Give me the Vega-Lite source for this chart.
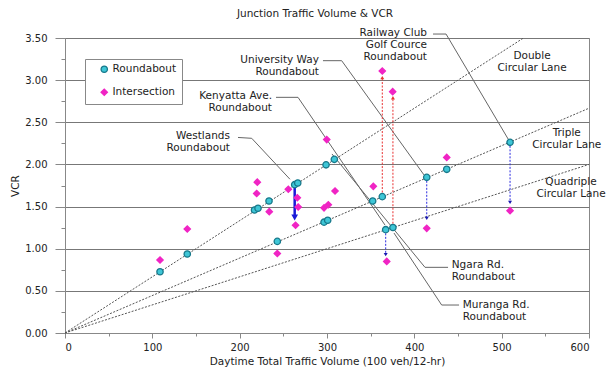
{
  "$schema": "https://vega.github.io/schema/vega-lite/v6.json",
  "width": 524,
  "height": 295,
  "autosize": {"type": "none"},
  "padding": {"left": 65, "top": 38, "right": 27, "bottom": 41},
  "background": "white",
  "title": {"text": "Junction Traffic Volume & VCR", "font": "DejaVu Sans", "fontSize": 10.5, "fontWeight": "normal", "color": "#222", "offset": 8, "dx": -12},
  "config": {
    "view": {"stroke": "#888", "strokeWidth": 1},
    "font": "DejaVu Sans",
    "axis": {"labelFont": "DejaVu Sans", "titleFont": "DejaVu Sans", "labelFontSize": 10, "titleFontSize": 10.5, "titleFontWeight": "normal", "labelColor": "#222", "titleColor": "#222", "domainColor": "#888", "tickColor": "#888", "gridColor": "#777", "gridWidth": 1},
    "legend": {"orient": "none", "legendX": 20, "legendY": 21, "padding": 5, "symbolOffset": 9, "labelOffset": 3, "rowPadding": 10, "strokeColor": "#888", "fillColor": "white", "labelFont": "DejaVu Sans", "labelFontSize": 10.5, "labelColor": "#222", "symbolSize": 40, "symbolStrokeWidth": 1.3}
  },
  "datasets": {
    "points": [
      {"series": "Roundabout", "x": 108.8, "y": 0.727},
      {"series": "Roundabout", "x": 140, "y": 0.937},
      {"series": "Roundabout", "x": 217, "y": 1.46},
      {"series": "Roundabout", "x": 221, "y": 1.48},
      {"series": "Roundabout", "x": 233.6, "y": 1.566},
      {"series": "Roundabout", "x": 243.1, "y": 1.087},
      {"series": "Roundabout", "x": 263, "y": 1.76},
      {"series": "Roundabout", "x": 266.5, "y": 1.78},
      {"series": "Roundabout", "x": 296.6, "y": 1.315},
      {"series": "Roundabout", "x": 300.8, "y": 1.338},
      {"series": "Roundabout", "x": 298.9, "y": 1.995},
      {"series": "Roundabout", "x": 308.4, "y": 2.06},
      {"series": "Roundabout", "x": 352.3, "y": 1.566},
      {"series": "Roundabout", "x": 363.3, "y": 1.618},
      {"series": "Roundabout", "x": 367.2, "y": 1.226},
      {"series": "Roundabout", "x": 375.5, "y": 1.252},
      {"series": "Roundabout", "x": 414.2, "y": 1.847},
      {"series": "Roundabout", "x": 437.1, "y": 1.942},
      {"series": "Roundabout", "x": 509.6, "y": 2.262},
      {"series": "Intersection", "x": 108.8, "y": 0.866},
      {"series": "Intersection", "x": 140, "y": 1.234},
      {"series": "Intersection", "x": 220.2, "y": 1.79},
      {"series": "Intersection", "x": 219.5, "y": 1.655},
      {"series": "Intersection", "x": 233.9, "y": 1.44},
      {"series": "Intersection", "x": 243.1, "y": 0.943},
      {"series": "Intersection", "x": 255.7, "y": 1.705},
      {"series": "Intersection", "x": 266, "y": 1.605},
      {"series": "Intersection", "x": 267, "y": 1.495},
      {"series": "Intersection", "x": 264, "y": 1.278},
      {"series": "Intersection", "x": 296.6, "y": 1.485},
      {"series": "Intersection", "x": 301.5, "y": 1.522},
      {"series": "Intersection", "x": 299.7, "y": 2.295},
      {"series": "Intersection", "x": 309.2, "y": 1.685},
      {"series": "Intersection", "x": 353, "y": 1.74},
      {"series": "Intersection", "x": 363.3, "y": 3.108},
      {"series": "Intersection", "x": 375.2, "y": 2.863},
      {"series": "Intersection", "x": 368.4, "y": 0.849},
      {"series": "Intersection", "x": 414.2, "y": 1.242},
      {"series": "Intersection", "x": 437.1, "y": 2.083},
      {"series": "Intersection", "x": 509.6, "y": 1.451}
    ],
    "lanes": [
      {"lane": "Double", "x": 0, "y": 0},
      {"lane": "Double", "x": 525, "y": 3.5},
      {"lane": "Triple", "x": 0, "y": 0},
      {"lane": "Triple", "x": 600, "y": 2.667},
      {"lane": "Quadriple", "x": 0, "y": 0},
      {"lane": "Quadriple", "x": 600, "y": 2.0}
    ],
    "leaders": [
      {"id": "Westlands", "seq": 1, "x": 198.1, "y": 2.32},
      {"id": "Westlands", "seq": 2, "x": 213.8, "y": 2.31},
      {"id": "Westlands", "seq": 3, "x": 257.6, "y": 1.824},
      {"id": "Kenyatta", "seq": 1, "x": 241.6, "y": 2.796},
      {"id": "Kenyatta", "seq": 2, "x": 266.8, "y": 2.796},
      {"id": "Kenyatta", "seq": 3, "x": 366.4, "y": 1.281},
      {"id": "University", "seq": 1, "x": 295.4, "y": 3.231},
      {"id": "University", "seq": 2, "x": 316.8, "y": 3.231},
      {"id": "University", "seq": 3, "x": 411.1, "y": 1.875},
      {"id": "Railway", "seq": 1, "x": 421.4, "y": 3.547},
      {"id": "Railway", "seq": 2, "x": 436.3, "y": 3.547},
      {"id": "Railway", "seq": 3, "x": 508.4, "y": 2.284},
      {"id": "Ngara", "seq": 1, "x": 438.6, "y": 0.779},
      {"id": "Ngara", "seq": 2, "x": 412.2, "y": 0.779},
      {"id": "Ngara", "seq": 3, "x": 305.7, "y": 2.124},
      {"id": "Muranga", "seq": 1, "x": 451.2, "y": 0.332},
      {"id": "Muranga", "seq": 2, "x": 431.3, "y": 0.332},
      {"id": "Muranga", "seq": 3, "x": 376.7, "y": 1.186}
    ],
    "arrows": [
      {"name": "Westlands", "change": "decrease", "x": 263, "y": 1.77, "y2": 1.37},
      {"name": "Kenyatta", "change": "decrease", "x": 367.2, "y": 1.224, "y2": 0.93},
      {"name": "University", "change": "decrease", "x": 414.2, "y": 1.847, "y2": 1.36},
      {"name": "Railway", "change": "decrease", "x": 509.6, "y": 2.262, "y2": 1.55},
      {"name": "Ngara", "change": "increase", "x": 363.3, "y": 1.625, "y2": 3.03},
      {"name": "Muranga", "change": "increase", "x": 375.5, "y": 1.255, "y2": 2.79}
    ],
    "labelsRight": [
      {"label": "Westlands\nRoundabout", "x": 188.9, "y": 2.391},
      {"label": "Kenyatta Ave.\nRoundabout", "x": 237, "y": 2.868},
      {"label": "University Way\nRoundabout", "x": 290.8, "y": 3.302},
      {"label": "Railway Club\nGolf Cource\nRoundabout", "x": 414.5, "y": 3.619}
    ],
    "labelsCenter": [
      {"label": "Double\nCircular Lane", "x": 534.8, "y": 3.342},
      {"label": "Triple\nCircular Lane", "x": 574.5, "y": 2.432},
      {"label": "Quadriple\nCircular Lane", "x": 579.4, "y": 1.847}
    ],
    "labelsLeft": [
      {"label": "Ngara Rd.\nRoundabout", "x": 442.8, "y": 0.866},
      {"label": "Muranga Rd.\nRoundabout", "x": 455.4, "y": 0.392}
    ]
  },
  "encoding": {
    "x": {
      "field": "x", "type": "quantitative",
      "scale": {"domain": [0, 600], "nice": false, "zero": false},
      "axis": {
        "values": [0, 50, 100, 150, 200, 250, 300, 350, 400, 450, 500, 550, 600],
        "labelExpr": "datum.value % 100 === 0 ? datum.label : ''",
        "tickSize": {"condition": {"test": "datum.value % 100 === 0", "value": 5}, "value": 3},
        "grid": false,
        "labelPadding": 4,
        "title": "Daytime Total Traffic Volume (100 veh/12-hr)",
        "titlePadding": 4
      }
    },
    "y": {
      "field": "y", "type": "quantitative",
      "scale": {"domain": [0, 3.5], "nice": false, "zero": false},
      "axis": {
        "values": [0, 0.25, 0.5, 0.75, 1, 1.25, 1.5, 1.75, 2, 2.25, 2.5, 2.75, 3, 3.25, 3.5],
        "labelExpr": "round(datum.value * 4) % 2 === 0 ? format(datum.value, '.2f') : ''",
        "tickSize": {"condition": {"test": "round(datum.value * 4) % 2 === 0", "value": 10}, "value": 4},
        "grid": true,
        "gridOpacity": {"condition": {"test": "round(datum.value * 4) % 2 === 0", "value": 1}, "value": 0},
        "labelPadding": 8,
        "title": "VCR",
        "titlePadding": 4
      }
    }
  },
  "layer": [
    {
      "data": {"name": "lanes"},
      "mark": {"type": "line", "color": "#555", "strokeWidth": 1, "strokeDash": [2, 1.5]},
      "encoding": {"detail": {"field": "lane", "type": "nominal"}}
    },
    {
      "data": {"name": "leaders"},
      "mark": {"type": "line", "color": "#666", "strokeWidth": 1},
      "encoding": {"detail": {"field": "id", "type": "nominal"}, "order": {"field": "seq", "type": "quantitative"}}
    },
    {
      "data": {"name": "arrows"},
      "transform": [{"filter": "datum.name !== 'Westlands'"}],
      "mark": {"type": "rule", "strokeWidth": 1, "strokeDash": [2, 1.5]},
      "encoding": {
        "y2": {"field": "y2"},
        "color": {"condition": {"test": "datum.change === 'increase'", "value": "#e83030"}, "value": "#2a2ae0"}
      }
    },
    {
      "data": {"name": "arrows"},
      "transform": [{"filter": "datum.name === 'Westlands'"}],
      "mark": {"type": "rule", "strokeWidth": 2.5, "color": "#1a1ad8"},
      "encoding": {"y2": {"field": "y2"}}
    },
    {
      "data": {"name": "points"},
      "mark": {"type": "point", "filled": true, "size": 40, "strokeWidth": 1.3, "opacity": 1},
      "encoding": {
        "shape": {"field": "series", "type": "nominal", "scale": {"domain": ["Roundabout", "Intersection"], "range": ["circle", "diamond"]}, "legend": {"title": null}},
        "fill": {"field": "series", "type": "nominal", "scale": {"domain": ["Roundabout", "Intersection"], "range": ["#3ec6d6", "#f024c4"]}, "legend": {"title": null}},
        "stroke": {"field": "series", "type": "nominal", "scale": {"domain": ["Roundabout", "Intersection"], "range": ["#17788a", "#f024c4"]}, "legend": {"title": null}}
      }
    },
    {
      "data": {"name": "arrows"},
      "transform": [{"filter": "datum.name !== 'Westlands'"}],
      "mark": {"type": "point", "filled": true, "size": 16, "opacity": 1},
      "encoding": {
        "y": {"field": "y2", "type": "quantitative"},
        "shape": {"condition": {"test": "datum.change === 'increase'", "value": "triangle-up"}, "value": "triangle-down"},
        "color": {"condition": {"test": "datum.change === 'increase'", "value": "#e83030"}, "value": "#1a1ab0"}
      }
    },
    {
      "data": {"name": "arrows"},
      "transform": [{"filter": "datum.name === 'Westlands'"}],
      "mark": {"type": "point", "filled": true, "size": 45, "opacity": 1, "shape": "triangle-down", "color": "#1a1ad8"},
      "encoding": {"y": {"field": "y2", "type": "quantitative"}}
    },
    {
      "data": {"name": "labelsRight"},
      "mark": {"type": "text", "align": "right", "baseline": "top", "fontSize": 10.5, "lineHeight": 12, "color": "#222", "lineBreak": "\n"},
      "encoding": {"text": {"field": "label"}}
    },
    {
      "data": {"name": "labelsCenter"},
      "mark": {"type": "text", "align": "center", "baseline": "top", "fontSize": 10.5, "lineHeight": 12, "color": "#222", "lineBreak": "\n"},
      "encoding": {"text": {"field": "label"}}
    },
    {
      "data": {"name": "labelsLeft"},
      "mark": {"type": "text", "align": "left", "baseline": "top", "fontSize": 10.5, "lineHeight": 12, "color": "#222", "lineBreak": "\n"},
      "encoding": {"text": {"field": "label"}}
    }
  ]
}
